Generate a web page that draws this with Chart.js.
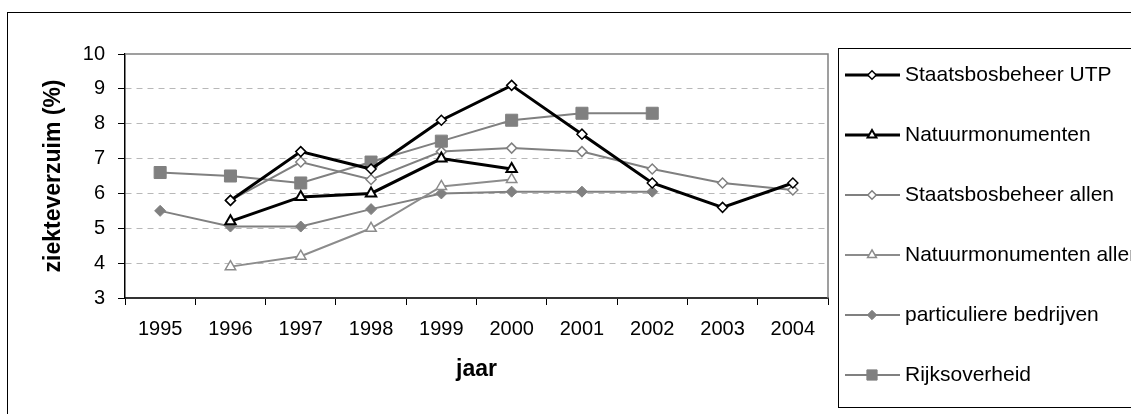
<!DOCTYPE html>
<html>
<head>
<meta charset="utf-8">
<script src="https://cdn.jsdelivr.net/npm/chart.js@4/dist/chart.umd.min.js"></script>
<style>
html,body{margin:0;padding:0;background:#fff;}
canvas{display:block;}
</style>
</head>
<body>
<canvas id="c" width="1131" height="414"></canvas>
<script>
const years = ['1995','1996','1997','1998','1999','2000','2001','2002','2003','2004'];
const sbbUTP = [null, 5.8, 7.2, 6.7, 8.1, 9.1, 7.7, 6.3, 5.6, 6.3];
const nmUTP = [null, 5.2, 5.9, 6.0, 7.0, 6.7, null, null, null, null];
const sbbAllen = [null, 5.8, 6.9, 6.4, 7.2, 7.3, 7.2, 6.7, 6.3, 6.1];
const nmAllen = [null, 3.9, 4.2, 5.0, 6.2, 6.4, null, null, null, null];
const particulier = [5.5, 5.05, 5.05, 5.55, 6.0, 6.05, 6.05, 6.05, null, null];
const rijk = [6.6, 6.5, 6.3, 6.9, 7.5, 8.1, 8.3, 8.3, null, null];
const seriesNames = ['Staatsbosbeheer UTP','Natuurmonumenten','Staatsbosbeheer allen','Natuurmonumenten allen','particuliere bedrijven','Rijksoverheid'];
const yTicks = [3,4,5,6,7,8,9,10];
const yTitle = 'ziekteverzuim (%)';
const xTitle = 'jaar';

const FONT = '"Liberation Sans", Arial, sans-serif';
const FS_TICK = 20;
const FS_LEG = 21;
const FS_TITLE = 23;
const GREY = '#808080';

const datasets = [
  {label: seriesNames[0], data: sbbUTP, borderColor:'#000', borderWidth:3, pointStyle:'rectRot', pointRadius:5, pointBorderWidth:1.5, pointBackgroundColor:'#fff', pointBorderColor:'#000'},
  {label: seriesNames[1], data: nmUTP, borderColor:'#000', borderWidth:3, pointStyle:'triangle', pointRadius:6, pointBorderWidth:2, pointBackgroundColor:'#fff', pointBorderColor:'#000'},
  {label: seriesNames[2], data: sbbAllen, borderColor:GREY, borderWidth:2, pointStyle:'rectRot', pointRadius:5, pointBorderWidth:1.5, pointBackgroundColor:'#fff', pointBorderColor:GREY},
  {label: seriesNames[3], data: nmAllen, borderColor:'#8c8c8c', borderWidth:2, pointStyle:'triangle', pointRadius:6, pointBorderWidth:1.5, pointBackgroundColor:'#fff', pointBorderColor:'#8c8c8c'},
  {label: seriesNames[4], data: particulier, borderColor:GREY, borderWidth:2, pointStyle:'rectRot', pointRadius:5.5, pointBorderWidth:1, pointBackgroundColor:GREY, pointBorderColor:GREY},
  {label: seriesNames[5], data: rijk, borderColor:GREY, borderWidth:2, pointStyle:'rect', pointRadius:8.5, pointBorderWidth:1, pointBackgroundColor:GREY, pointBorderColor:GREY}
].map(d => Object.assign({tension:0, fill:false, spanGaps:false, pointHoverRadius:d.pointRadius}, d));

const framePlugin = {
  id:'frame',
  beforeDraw(chart){
    const ctx = chart.ctx;
    ctx.save();
    ctx.fillStyle = '#fff';
    ctx.fillRect(0,0,chart.width,chart.height);
    ctx.strokeStyle = '#000';
    ctx.lineWidth = 1;
    ctx.strokeRect(7.5, 12.5, 1300, 600);
    ctx.restore();
  },
  beforeDatasetsDraw(chart){
    const {ctx, chartArea:a} = chart;
    ctx.save();
    ctx.strokeStyle = GREY;
    ctx.lineWidth = 1.5;
    ctx.beginPath();
    ctx.moveTo(a.left, a.top);
    ctx.lineTo(a.right, a.top);
    ctx.lineTo(a.right, a.bottom);
    ctx.stroke();
    ctx.restore();
  },
  afterDraw(chart){
    const ctx = chart.ctx;
    ctx.save();
    ctx.strokeStyle = '#000';
    ctx.lineWidth = 1;
    ctx.strokeRect(838.5, 48.5, 400, 359);
    const x0 = 845, x1 = 900, xm = 872, tx = 905;
    chart.data.datasets.forEach((ds, i) => {
      const y = 75 + i * 60;
      ctx.strokeStyle = ds.borderColor;
      ctx.lineWidth = ds.borderWidth;
      ctx.beginPath();
      ctx.moveTo(x0, y); ctx.lineTo(x1, y);
      ctx.stroke();
      ctx.fillStyle = ds.pointBackgroundColor;
      ctx.strokeStyle = ds.pointBorderColor;
      ctx.lineWidth = ds.pointBorderWidth;
      const r = ds.pointRadius * 0.85;
      Chart.helpers.drawPoint(ctx, {pointStyle: ds.pointStyle, radius: r, rotation: 0, borderWidth: ds.pointBorderWidth}, xm, y);
      ctx.fillStyle = '#000';
      ctx.font = FS_LEG + 'px ' + FONT;
      ctx.textBaseline = 'middle';
      ctx.textAlign = 'left';
      ctx.fillText(ds.label, tx, y);
    });
    ctx.restore();
  }
};

new Chart(document.getElementById('c'), {
  type:'line',
  data:{labels: years, datasets},
  options:{
    responsive:false,
    animation:false,
    events:[],
    layout:{padding:{left:0, top:54, right:303, bottom:0}},
    plugins:{legend:{display:false}, tooltip:{enabled:false}},
    scales:{
      x:{
        type:'category',
        offset:true,
        grid:{offset:true, drawOnChartArea:false, drawTicks:true, tickLength:7, tickColor:'#000', tickWidth:1},
        border:{display:true, color:'#333', width:2},
        ticks:{color:'#000', font:{family:FONT, size:FS_TICK}, padding:12, maxRotation:0, autoSkip:false},
        title:{display:true, text:xTitle, color:'#000', font:{family:FONT, size:FS_TITLE, weight:'bold'}, padding:{top:0,bottom:31}},
        afterFit(s){ s.height = 116; }
      },
      y:{
        min:3, max:10,
        afterBuildTicks(s){ s.ticks = yTicks.map(v => ({value:v})); },
        grid:{
          color:(c) => (c.tick && (c.tick.value === 3 || c.tick.value === 10)) ? 'rgba(0,0,0,0)' : '#b8b8b8',
          lineWidth:1,
          tickLength:7, tickColor:'#000', tickWidth:1, tickBorderDash:[]
        },
        border:{display:true, color:'#000', width:1.5, dash:[6,5]},
        ticks:{color:'#000', font:{family:FONT, size:FS_TICK}, padding:13},
        title:{display:true, text:yTitle, color:'#000', font:{family:FONT, size:FS_TITLE, weight:'bold'}, padding:{top:40,bottom:0}},
        afterFit(s){ s.width = 125; }
      }
    }
  },
  plugins:[framePlugin]
});
</script>
</body>
</html>
